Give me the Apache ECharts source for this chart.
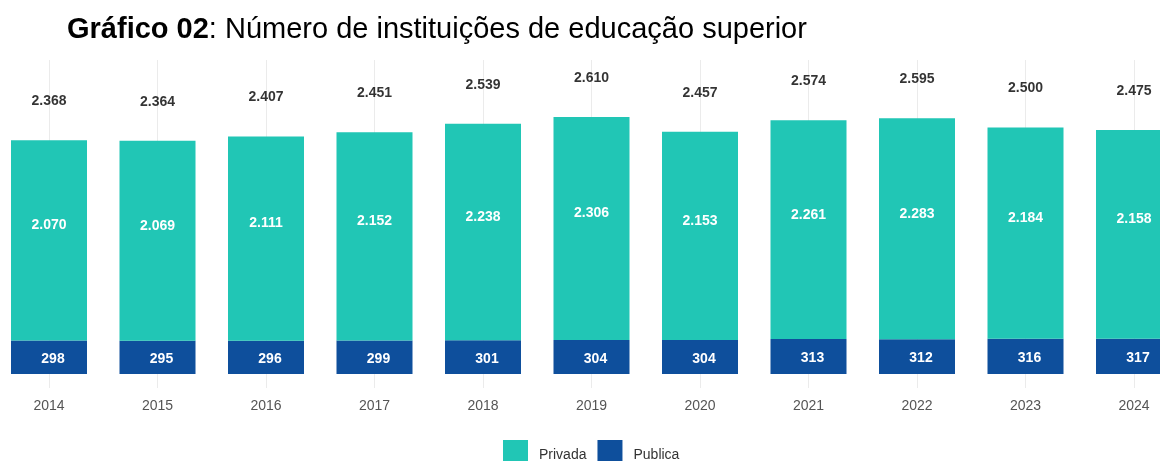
<!DOCTYPE html>
<html>
<head>
<meta charset="utf-8">
<script src="https://cdn.jsdelivr.net/npm/echarts@6/dist/echarts.min.js"></script>
<style>html,body{margin:0;padding:0;background:#fff}#c{width:1160px;height:461px}</style>
</head>
<body>
<div id="c"></div>
<script>
const categories = ['2014','2015','2016','2017','2018','2019','2020','2021','2022','2023','2024'];
const privada = [2070, 2069, 2111, 2152, 2238, 2306, 2153, 2261, 2283, 2184, 2158];
const publica = [298, 295, 296, 299, 301, 304, 304, 313, 312, 316, 317];
const totals = [2368, 2364, 2407, 2451, 2539, 2610, 2457, 2574, 2595, 2500, 2475];

function fmt(n) { return String(n).replace(/\B(?=(\d{3})+(?!\d))/g, '.'); }

const FONT = '"Liberation Sans", Arial, sans-serif';
const chart = echarts.init(document.getElementById('c'), null, {renderer: 'canvas'});
chart.setOption({
  animation: false,
  title: {
    text: '{b|Gráfico 02}{n|: Número de instituições de educação superior}',
    left: 62, top: 10,
    textStyle: {
      fontWeight: 'normal',
      rich: {
        b: {fontFamily: FONT, fontSize: 29, fontWeight: 'bold', color: '#000'},
        n: {fontFamily: FONT, fontSize: 29, fontWeight: 'normal', color: '#000'}
      }
    }
  },
  legend: {
    data: ['Privada', 'Publica'],
    left: 503, top: 440, padding: 0,
    itemWidth: 25, itemHeight: 30, itemGap: 11,
    icon: 'rect',
    textStyle: {fontFamily: FONT, fontSize: 14, color: '#333', padding: [0, 0, 0, 6]}
  },
  grid: {left: -5.25, right: -28.25, top: 60, bottom: 73, outerBoundsMode: 'none', containLabel: false},
  xAxis: {
    type: 'category', data: categories,
    axisLine: {show: false}, axisTick: {show: false},
    axisLabel: {fontFamily: FONT, fontSize: 14, color: '#555', margin: 11},
    splitLine: {show: true, alignWithLabel: true, lineStyle: {color: '#ebebeb', width: 1}}
  },
  yAxis: {
    type: 'value', min: -193, max: 3198, startValue: -48,
    show: false, splitLine: {show: false}
  },
  series: [
    {
      name: 'Publica', type: 'bar', stack: 'a', data: publica, barWidth: 76,
      itemStyle: {color: '#0E4F9C'},
      label: {show: true, position: 'inside', offset: [4, 2], color: '#fff', fontFamily: FONT, fontWeight: 'bold', fontSize: 14,
        formatter: p => fmt(p.value)}
    },
    {
      name: 'Privada', type: 'bar', stack: 'a', data: privada, barWidth: 76,
      itemStyle: {color: '#21C6B5'},
      label: {show: true, position: 'inside', offset: [0, -15], color: '#fff', fontFamily: FONT, fontWeight: 'bold', fontSize: 14,
        formatter: p => fmt(p.value)}
    },
    {
      name: 'Total', type: 'scatter', data: totals, symbolSize: 0, silent: true,
      label: {show: true, position: 'top', distance: 32, color: '#000', fontFamily: FONT, fontWeight: 'bold', fontSize: 14,
        formatter: p => fmt(p.value)}
    }
  ]
});
</script>
</body>
</html>
